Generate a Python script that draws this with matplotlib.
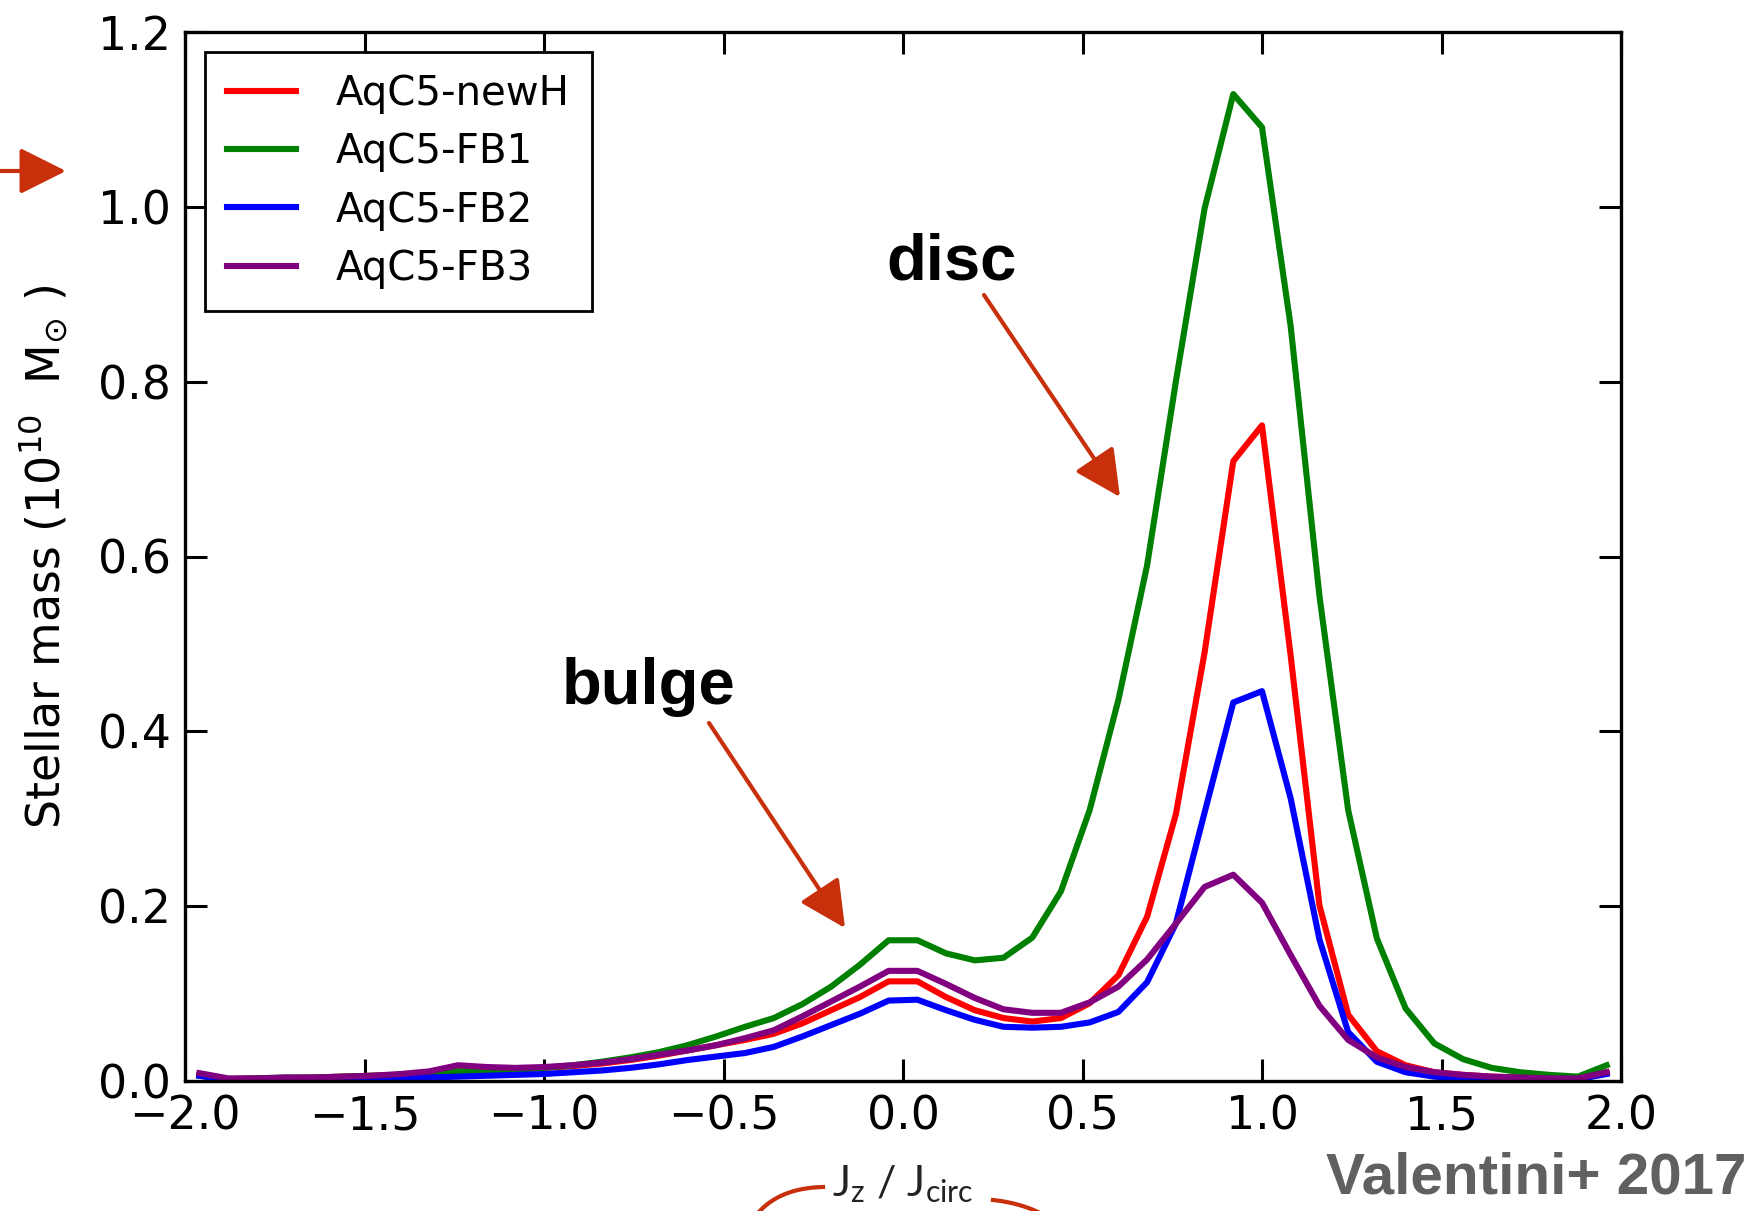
import numpy as np
import matplotlib
matplotlib.use("Agg")
import matplotlib.pyplot as plt
from matplotlib.patches import FancyArrowPatch
from matplotlib.lines import Line2D

# ---------------- data ----------------
jz = [-1.96, -1.88, -1.80, -1.72, -1.64, -1.56, -1.48, -1.40, -1.32, -1.24,
      -1.16, -1.08, -1.00, -0.92, -0.84, -0.76, -0.68, -0.60, -0.52, -0.44,
      -0.36, -0.28, -0.20, -0.12, -0.04, 0.04, 0.12, 0.20, 0.28, 0.36,
      0.44, 0.52, 0.60, 0.68, 0.76, 0.84, 0.92, 1.00, 1.08, 1.16,
      1.24, 1.32, 1.40, 1.48, 1.56, 1.64, 1.72, 1.80, 1.88, 1.96]

newH = [0.007, 0.002, 0.003, 0.003, 0.004, 0.005, 0.006, 0.007, 0.009, 0.011,
        0.012, 0.013, 0.015, 0.017, 0.020, 0.024, 0.029, 0.035, 0.041, 0.047,
        0.054, 0.066, 0.081, 0.096, 0.114, 0.114, 0.096, 0.081, 0.072, 0.068,
        0.072, 0.089, 0.121, 0.188, 0.305, 0.490, 0.709, 0.750, 0.486, 0.201,
        0.076, 0.034, 0.018, 0.010, 0.007, 0.005, 0.004, 0.003, 0.003, 0.010]

fb1 = [0.006, 0.002, 0.003, 0.004, 0.004, 0.005, 0.006, 0.007, 0.009, 0.011,
       0.012, 0.013, 0.015, 0.018, 0.022, 0.027, 0.033, 0.041, 0.051, 0.062,
       0.072, 0.088, 0.108, 0.133, 0.161, 0.161, 0.146, 0.138, 0.141, 0.164,
       0.217, 0.310, 0.436, 0.590, 0.800, 0.998, 1.129, 1.091, 0.863, 0.555,
       0.310, 0.163, 0.083, 0.043, 0.025, 0.015, 0.010, 0.007, 0.005, 0.018]

fb2 = [0.006, 0.001, 0.001, 0.002, 0.002, 0.002, 0.003, 0.003, 0.004, 0.005,
       0.006, 0.007, 0.008, 0.010, 0.012, 0.015, 0.019, 0.024, 0.028, 0.032,
       0.039, 0.051, 0.064, 0.077, 0.092, 0.093, 0.081, 0.070, 0.062, 0.061,
       0.062, 0.067, 0.079, 0.113, 0.180, 0.307, 0.433, 0.446, 0.323, 0.162,
       0.056, 0.022, 0.010, 0.005, 0.003, 0.002, 0.002, 0.002, 0.002, 0.008]

fb3 = [0.009, 0.003, 0.003, 0.004, 0.004, 0.005, 0.006, 0.008, 0.011, 0.018,
       0.016, 0.015, 0.016, 0.018, 0.021, 0.025, 0.030, 0.035, 0.041, 0.049,
       0.058, 0.074, 0.091, 0.108, 0.126, 0.126, 0.111, 0.095, 0.082, 0.078,
       0.078, 0.090, 0.108, 0.139, 0.180, 0.222, 0.236, 0.204, 0.144, 0.086,
       0.047, 0.027, 0.016, 0.010, 0.007, 0.005, 0.004, 0.003, 0.003, 0.010]

labels = ["AqC5-newH", "AqC5-FB1", "AqC5-FB2", "AqC5-FB3"]
colors = ["red", "green", "blue", "purple"]
xticks = [-2.0, -1.5, -1.0, -0.5, 0.0, 0.5, 1.0, 1.5, 2.0]
yticks = [0.0, 0.2, 0.4, 0.6, 0.8, 1.0, 1.2]

# ---------------- figure ----------------
W, H = 1764, 1211
fig = plt.figure(figsize=(W / 100, H / 100), dpi=100)
ax = fig.add_axes([185 / W, 1 - 1081 / H, 1436 / W, 1049 / H])

for ys, lab, c in zip([newH, fb1, fb2, fb3], labels, colors):
    ax.plot(jz, ys, color=c, lw=4.4, label=lab)

ax.set_xlim(-2, 2)
ax.set_ylim(0, 1.2)
ax.set_xticks(xticks)
ax.set_yticks(yticks)
ax.set_xticklabels([f"{t:.1f}".replace("-", "\u2212") for t in xticks])
ax.set_yticklabels([f"{t:.1f}" for t in yticks])
ax.tick_params(direction="in", length=16, width=2.2, top=True, right=True,
               labelsize=33, pad=10)
for s in ax.spines.values():
    s.set_linewidth(2.4)

ax.set_ylabel(r"Stellar mass ($\mathregular{10^{10}}$  M$_{\odot}$ )", fontsize=33)
ax.yaxis.set_label_coords(-0.080, 0.5)

leg = ax.legend(loc="upper left", fontsize=29, handlelength=1.7,
                handletextpad=1.0, borderpad=0.55, labelspacing=0.45,
                borderaxespad=0.5, fancybox=False, framealpha=1)
leg.get_frame().set_edgecolor("black")
leg.get_frame().set_linewidth(2.0)

def fx(px):
    return px / W

def fy(py):
    return 1 - py / H

# annotations
fig.text(fx(886), fy(280), "disc", fontsize=47, fontweight="bold",
         family=["Liberation Sans", "DejaVu Sans"], ha="left", va="baseline")
fig.text(fx(562), fy(704), "bulge", fontsize=47, fontweight="bold",
         family=["Liberation Sans", "DejaVu Sans"], ha="left", va="baseline")

arrow_col = "#c8300c"
for (x0, y0), (x1, y1) in [((984, 295), (1120, 497)),
                           ((709, 723), (845, 928)),
                           ((0, 171), (66, 171))]:
    arr = FancyArrowPatch((fx(x0), fy(y0)), (fx(x1), fy(y1)),
                          transform=fig.transFigure,
                          arrowstyle="-|>,head_length=1.1,head_width=0.55",
                          mutation_scale=26, color=arrow_col, lw=3.0,
                          shrinkA=0, shrinkB=0)
    fig.add_artist(arr)

# hand-drawn curves around the x label
t = np.linspace(0, 1, 30)
lx = (1 - t) ** 2 * 758 + 2 * (1 - t) * t * 780 + t ** 2 * 823
ly = (1 - t) ** 2 * 1213 + 2 * (1 - t) * t * 1188 + t ** 2 * 1187
fig.add_artist(Line2D(fx(lx), fy(ly), transform=fig.transFigure,
                      color=arrow_col, lw=3))
rx = (1 - t) ** 2 * 993 + 2 * (1 - t) * t * 1020 + t ** 2 * 1040
ry = (1 - t) ** 2 * 1200 + 2 * (1 - t) * t * 1203 + t ** 2 * 1213
fig.add_artist(Line2D(fx(rx), fy(ry), transform=fig.transFigure,
                      color=arrow_col, lw=3))

fig.text(fx(832), fy(1196), r"J$_\mathregular{z}$ / J$_\mathregular{circ}$",
         fontsize=31, family=["Lato", "DejaVu Sans"], ha="left", va="baseline",
         color="#222222")

fig.text(fx(1746), fy(1194), "Valentini+ 2017", fontsize=42, fontweight="bold",
         family=["Liberation Sans Narrow", "Liberation Sans", "DejaVu Sans"],
         color="#606060", ha="right", va="baseline")

fig.savefig("out.png", dpi=100)
